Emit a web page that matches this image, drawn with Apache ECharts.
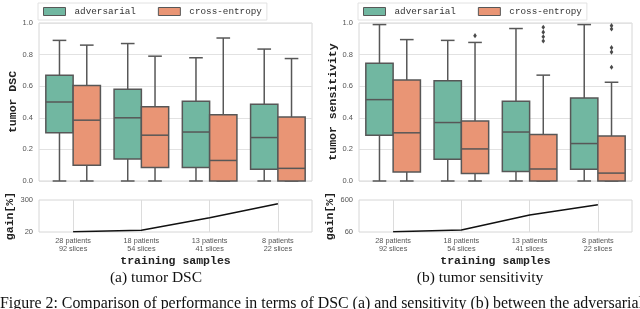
<!DOCTYPE html>
<html><head><meta charset="utf-8">
<script src="https://cdn.jsdelivr.net/npm/echarts@6/dist/echarts.min.js"></script>
<style>html,body{margin:0;padding:0;background:#fff}#c{width:640px;height:309px}</style>
</head><body><div id="c"></div>
<script>
// ---- data ----
const categories = ['28 patients\n92 slices', '18 patients\n54 slices', '13 patients\n41 slices', '8 patients\n22 slices'];
const seriesNames = ['adversarial', 'cross-entropy'];
// [min, q1, median, q3, max]
const dscAdversarial = [[0, 0.305, 0.50, 0.67, 0.89], [0, 0.14, 0.40, 0.58, 0.87], [0, 0.085, 0.31, 0.505, 0.78], [0, 0.075, 0.275, 0.485, 0.835]];
const dscCrossEntropy = [[0, 0.10, 0.385, 0.605, 0.86], [0, 0.085, 0.29, 0.47, 0.79], [0, 0, 0.13, 0.42, 0.905], [0, 0, 0.08, 0.405, 0.775]];
const sensAdversarial = [[0, 0.29, 0.515, 0.745, 0.99], [0, 0.137, 0.37, 0.635, 0.89], [0, 0.06, 0.31, 0.505, 0.965], [0, 0.074, 0.237, 0.525, 0.99]];
const sensCrossEntropy = [[0, 0.057, 0.305, 0.64, 0.895], [0, 0.048, 0.203, 0.38, 0.877], [0, 0, 0.076, 0.295, 0.67], [0, 0, 0.05, 0.285, 0.625]];
// outliers: [category index, value]
const sensCrossEntropyOutliers = [[1, 0.92], [2, 0.973], [2, 0.942], [2, 0.913], [2, 0.886], [3, 0.983], [3, 0.962], [3, 0.844], [3, 0.816], [3, 0.72]];
const gainDSC = [22, 35, 145, 268];
const gainSens = [65, 94, 347, 521];
const gainDSCTicks = [20, 300];
const gainSensTicks = [60, 600];

// ---- style ----
const GREEN = '#71b7a1', ORANGE = '#e99575', EDGE = '#575757';
const MONO = '"Liberation Mono", "DejaVu Sans Mono", monospace';
const SANS = '"Liberation Sans", Arial, sans-serif';
const SERIF = '"Liberation Serif", "Times New Roman", serif';

function boxRender(side) {
  return function (params, api) {
    const band = api.size([1, 0])[0];
    const idx = api.value(0);
    const cx = api.coord([idx, 0])[0] + side * 0.2 * band;
    const w = 0.4 * band;
    const y = i => api.coord([idx, api.value(i)])[1];
    const yMin = y(1), yQ1 = y(2), yMed = y(3), yQ3 = y(4), yMax = y(5);
    const ls = { stroke: EDGE, lineWidth: 1.5 };
    return {
      type: 'group', children: [
        { type: 'line', shape: { x1: cx, y1: yMin, x2: cx, y2: yQ1 }, style: ls },
        { type: 'line', shape: { x1: cx, y1: yQ3, x2: cx, y2: yMax }, style: ls },
        { type: 'line', shape: { x1: cx - w / 4, y1: yMin, x2: cx + w / 4, y2: yMin }, style: ls },
        { type: 'line', shape: { x1: cx - w / 4, y1: yMax, x2: cx + w / 4, y2: yMax }, style: ls },
        { type: 'rect', shape: { x: cx - w / 2, y: yQ3, width: w, height: yQ1 - yQ3 }, style: { fill: api.visual('color'), stroke: EDGE, lineWidth: 1.5 } },
        { type: 'line', shape: { x1: cx - w / 2, y1: yMed, x2: cx + w / 2, y2: yMed }, style: ls }
      ]
    };
  };
}
function outlierRender(side) {
  return function (params, api) {
    const band = api.size([1, 0])[0];
    const p = api.coord([api.value(0), api.value(1)]);
    const cx = p[0] + side * 0.2 * band, cy = p[1];
    return { type: 'polygon', shape: { points: [[cx, cy - 2.6], [cx + 1.8, cy], [cx, cy + 2.6], [cx - 1.8, cy]] }, style: { fill: '#4a4a4a' } };
  };
}
const withIdx = arr => arr.map((d, i) => [i].concat(d));

function boxSeries(name, data, side, color, xi) {
  return {
    type: 'custom', name: name, xAxisIndex: xi, yAxisIndex: xi,
    renderItem: boxRender(side), itemStyle: { color: color },
    encode: { x: 0, y: [1, 2, 3, 4, 5] }, data: withIdx(data), silent: true
  };
}
function gainSeries(data, xi) {
  return {
    type: 'line', xAxisIndex: xi, yAxisIndex: xi, data: data, symbol: 'none',
    lineStyle: { color: '#111', width: 1.5 }, silent: true, z: 5,
    markLine: {
      silent: true, symbol: 'none', label: { show: false }, z: 1,
      lineStyle: { color: '#dcdcdc', type: 'solid', width: 1 },
      data: categories.map(c => ({ xAxis: c }))
    }
  };
}

const grids = [
  { left: 39, top: 23, width: 273, height: 158 },
  { left: 39, top: 200, width: 273, height: 32 },
  { left: 359, top: 23, width: 273, height: 158 },
  { left: 359, top: 200, width: 273, height: 32 }
].map(g => Object.assign({ show: true, borderColor: '#d6d6d6', borderWidth: 1 }, g));

function xAx(gi, lower) {
  return {
    type: 'category', gridIndex: gi, data: categories, boundaryGap: true,
    axisLine: { show: false }, axisTick: { show: false }, splitLine: { show: false },
    axisLabel: { show: lower, fontFamily: SANS, fontSize: 7.3, lineHeight: 8, color: '#555', margin: 5 },
    name: lower ? 'training samples' : '', nameLocation: 'middle', nameGap: 23,
    nameTextStyle: { fontFamily: MONO, fontWeight: 'bold', fontSize: 11.5, color: '#222' }
  };
}
const nameStyle = { fontFamily: MONO, fontWeight: 'bold', fontSize: 11.5, color: '#222' };
function yUpper(gi, name) {
  return {
    type: 'value', gridIndex: gi, min: 0, max: 1, interval: 0.2,
    axisLine: { show: false }, axisTick: { show: false },
    axisLabel: { fontFamily: SANS, fontSize: 7.5, color: '#555', margin: 6, formatter: v => v.toFixed(1) },
    splitLine: { lineStyle: { color: '#e2e2e2', width: 1 } },
    name: name, nameLocation: 'middle', nameGap: 19, nameTextStyle: nameStyle
  };
}
function yLower(gi, ticks) {
  return {
    type: 'value', gridIndex: gi, min: ticks[0], max: ticks[1], interval: ticks[1] - ticks[0],
    axisLine: { show: false }, axisTick: { show: false }, splitLine: { show: false },
    axisLabel: { fontFamily: SANS, fontSize: 7.5, color: '#555', margin: 6 },
    name: 'gain[%]', nameLocation: 'middle', nameGap: 19, nameTextStyle: nameStyle
  };
}
function legend(left) {
  return {
    left: left, top: 3, data: seriesNames, icon: 'rect', itemWidth: 22, itemHeight: 8, itemGap: 22,
    padding: [4, 5, 4, 5], borderColor: '#e2e2e2', borderWidth: 1, backgroundColor: '#fff',
    itemStyle: { borderColor: EDGE, borderWidth: 1 },
    textStyle: { fontFamily: MONO, fontSize: 9.3, color: '#333', padding: [0, 0, 0, 4] },
    selectedMode: false
  };
}

const chart = echarts.init(document.getElementById('c'), null, { renderer: 'canvas' });
chart.setOption({
  animation: false,
  backgroundColor: '#fff',
  grid: grids,
  xAxis: [xAx(0, false), xAx(1, true), xAx(2, false), xAx(3, true)],
  yAxis: [yUpper(0, 'tumor DSC'), yLower(1, gainDSCTicks), yUpper(2, 'tumor sensitivity'), yLower(3, gainSensTicks)],
  legend: [legend(38), legend(358)],
  series: [
    boxSeries(seriesNames[0], dscAdversarial, -1, GREEN, 0),
    boxSeries(seriesNames[1], dscCrossEntropy, 1, ORANGE, 0),
    gainSeries(gainDSC, 1),
    boxSeries(seriesNames[0], sensAdversarial, -1, GREEN, 2),
    boxSeries(seriesNames[1], sensCrossEntropy, 1, ORANGE, 2),
    { type: 'custom', xAxisIndex: 2, yAxisIndex: 2, renderItem: outlierRender(1), encode: { x: 0, y: 1 }, data: sensCrossEntropyOutliers, silent: true },
    gainSeries(gainSens, 3)
  ],
  graphic: [
    { type: 'text', x: 156, y: 278, style: { text: '(a) tumor DSC', fontFamily: SERIF, fontSize: 15.5, fill: '#111', align: 'center', verticalAlign: 'middle' } },
    { type: 'text', x: 480, y: 278, style: { text: '(b) tumor sensitivity', fontFamily: SERIF, fontSize: 15.5, fill: '#111', align: 'center', verticalAlign: 'middle' } },
    { type: 'text', x: 0, y: 304, style: { text: 'Figure 2: Comparison of performance in terms of DSC (a) and sensitivity (b) between the adversarial', fontFamily: SERIF, fontSize: 15.9, fill: '#111', align: 'left', verticalAlign: 'middle' } }
  ]
});
</script></body></html>
